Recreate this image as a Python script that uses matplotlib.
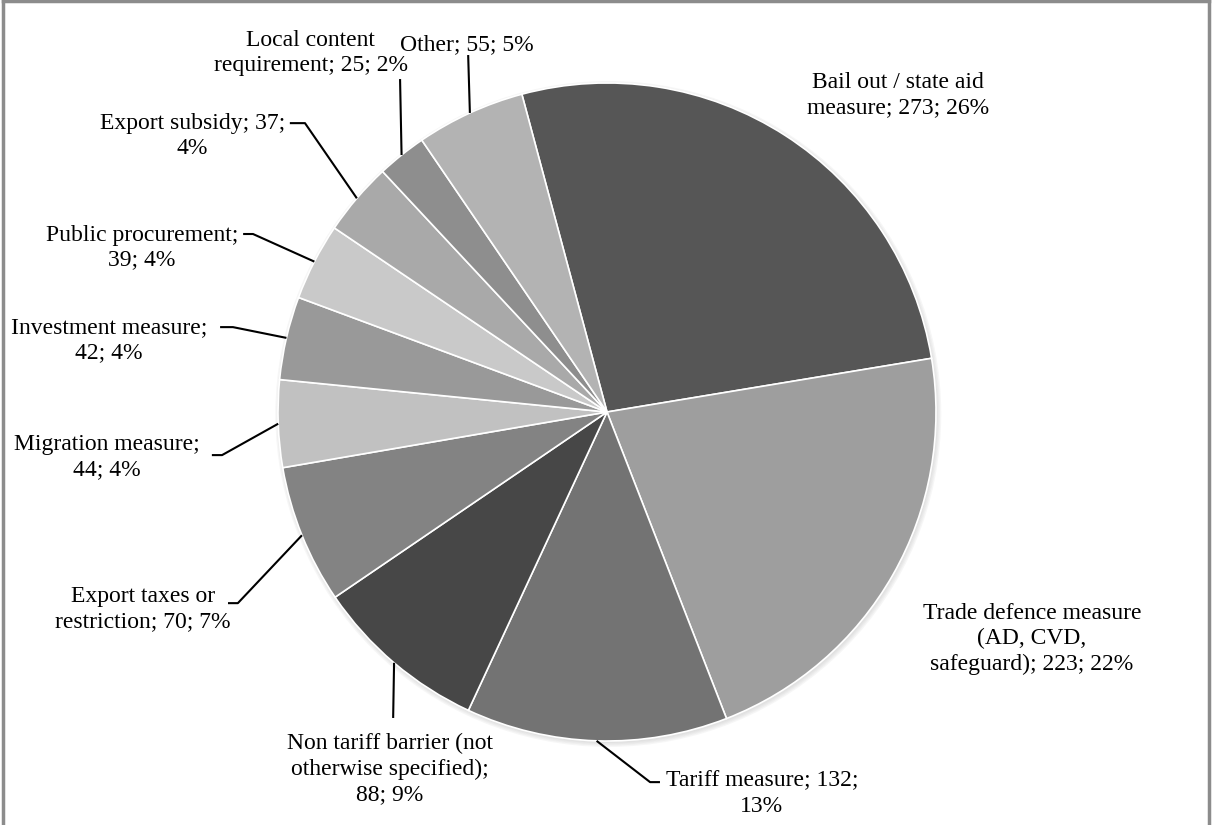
import numpy as np
import matplotlib
matplotlib.use("Agg")
from matplotlib import pyplot as plt
from matplotlib.patches import Circle
from matplotlib.lines import Line2D

# measures, counts and shares as they appear on the labels
categories = [
    "Bail out / state aid\nmeasure",
    "Trade defence measure\n(AD, CVD,\nsafeguard)",
    "Tariff measure",
    "Non tariff barrier (not\notherwise specified)",
    "Export taxes or\nrestriction",
    "Migration measure",
    "Investment measure",
    "Public procurement",
    "Export subsidy",
    "Local content\nrequirement",
    "Other",
]
counts = [273, 223, 132, 88, 70, 44, 42, 39, 37, 25, 55]
shares = [26, 22, 13, 9, 7, 4, 4, 4, 4, 2, 5]

colors = ["#565656", "#9e9e9e", "#737373", "#474747", "#838383", "#c1c1c1",
          "#999999", "#c9c9c9", "#a9a9a9", "#8e8e8e", "#b3b3b3"]

# label text, split the way the chart wraps it
label_text = [
    "Bail out / state aid\nmeasure; {n}; {p}%",
    "Trade defence measure\n(AD, CVD,\nsafeguard); {n}; {p}%",
    "Tariff measure; {n};\n{p}%",
    "Non tariff barrier (not\notherwise specified);\n{n}; {p}%",
    "Export taxes or\nrestriction; {n}; {p}%",
    "Migration measure;\n{n}; {p}%",
    "Investment measure;\n{n}; {p}%",
    "Public procurement;\n{n}; {p}%",
    "Export subsidy; {n};\n{p}%",
    "Local content\nrequirement; {n}; {p}%",
    "Other; {n}; {p}%",
]

# layout: label centre (pie radius units) and leader line elbow / stub end
label_pos = [(0.885, 0.964), (1.292, -0.690), (0.471, -1.160), (-0.660, -1.085),
             (-1.410, -0.600), (-1.520, -0.138), (-1.514, 0.218), (-1.413, 0.500),
             (-1.261, 0.840), (-0.900, 1.090), (-0.426, 1.116)]
leaders = [None, None,
           [(0.131, -1.125), (0.161, -1.125)],
           [(-0.650, -0.930)],
           [(-1.122, -0.581), (-1.152, -0.581)],
           [(-1.170, -0.131), (-1.201, -0.131)],
           [(-1.137, 0.258), (-1.176, 0.258)],
           [(-1.076, 0.541), (-1.106, 0.541)],
           [(-0.918, 0.878), (-0.964, 0.878)],
           [(-0.629, 1.012)],
           [(-0.422, 1.085)]]

W, H = 1212, 825
cx, cy, r = 607, 412, 329

fig = plt.figure(figsize=(W / 100, H / 100), dpi=100)
fig.patch.set_facecolor("white")
ax = fig.add_axes([(cx - r) / W, (H - cy - r) / H, 2 * r / W, 2 * r / H])

# soft drop shadow under the pie
for k in range(4):
    ax.add_patch(Circle((0.004, -0.006), 1.0 + 0.004 * k, color="#b8b8b8",
                        alpha=0.12, lw=0, zorder=0, clip_on=False))

wedges, _ = ax.pie(counts, colors=colors, startangle=105, counterclock=False,
                   radius=1.0,
                   wedgeprops=dict(edgecolor="white", linewidth=1.2))
for w in wedges:
    w.set_zorder(2)
    w.set_clip_on(False)

ax.set_xlim(-1, 1)
ax.set_ylim(-1, 1)
ax.set_aspect("equal")
ax.axis("off")

font = dict(family="Liberation Serif", size=17)
for i, w in enumerate(wedges):
    txt = label_text[i].format(n=counts[i], p=shares[i])
    lx, ly = label_pos[i]
    ax.text(lx, ly, txt, ha="center", va="center", linespacing=1.25,
            clip_on=False, zorder=5, **font)
    if leaders[i] is None:
        continue
    mid = np.deg2rad((w.theta1 + w.theta2) / 2)
    xs = [np.cos(mid)] + [p[0] for p in leaders[i]]
    ys = [np.sin(mid)] + [p[1] for p in leaders[i]]
    ax.plot(xs, ys, color="black", lw=1.5, clip_on=False, zorder=4,
            solid_capstyle="butt")

# chart area frame (open at the bottom)
frame = dict(color="#8c8c8c", lw=2.5, transform=fig.transFigure)
fig.add_artist(Line2D([3 / W, 3 / W], [0, 1 - 1 / H], **frame))
fig.add_artist(Line2D([3 / W, 1 - 3 / W], [1 - 1 / H, 1 - 1 / H], **frame))
fig.add_artist(Line2D([1 - 3 / W, 1 - 3 / W], [0, 1 - 1 / H], **frame))

fig.savefig("out.png", dpi=100, facecolor="white")
